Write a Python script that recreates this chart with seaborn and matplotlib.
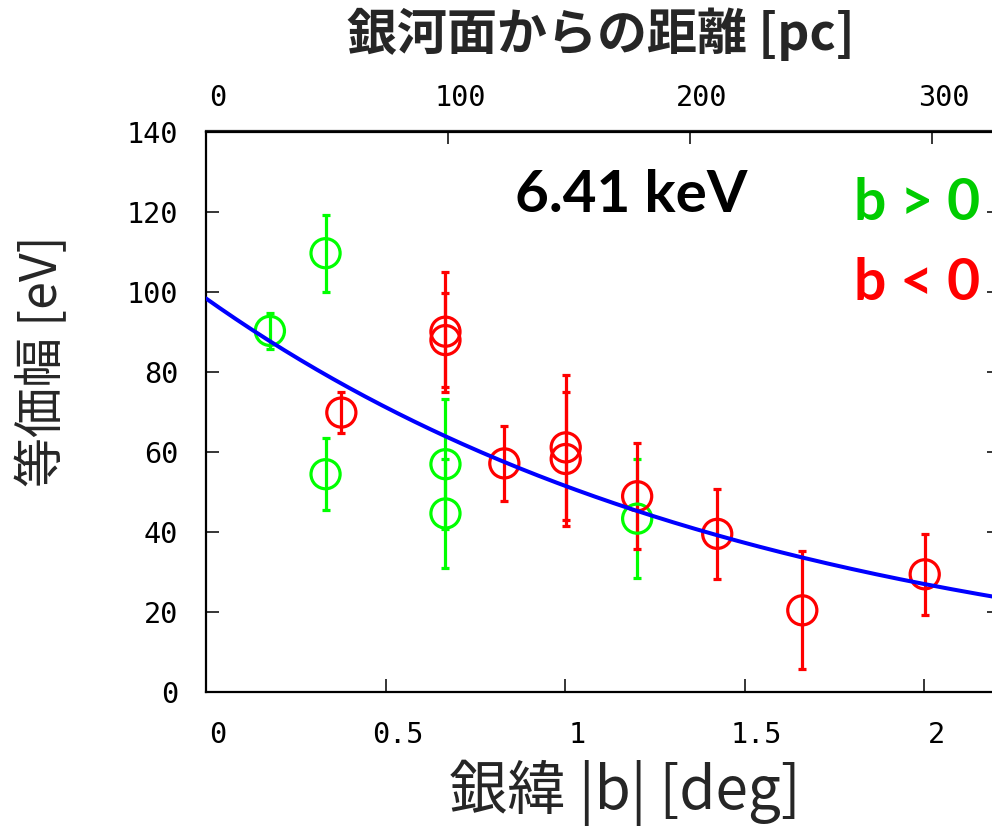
import numpy as np
import pandas as pd
import matplotlib
matplotlib.use("Agg")
import matplotlib.pyplot as plt
from matplotlib.transforms import ScaledTranslation
import seaborn as sns

# ---- data ----
b_pos = [0.178, 0.333, 0.333, 0.667, 0.667, 1.201]
ew_pos = [90.2, 109.6, 54.4, 56.9, 44.6, 43.3]
err_pos = [4.5, 9.6, 9.0, 16.2, 13.7, 14.9]

b_neg = [0.377, 0.667, 0.667, 0.831, 1.002, 1.002, 1.201, 1.424, 1.661, 2.002]
ew_neg = [69.8, 90.0, 87.9, 57.1, 61.1, 58.2, 48.9, 39.5, 20.4, 29.4]
err_neg = [5.2, 15.0, 11.7, 9.3, 18.1, 16.8, 13.3, 11.3, 14.7, 10.1]

fit_amp = 98.3        # eV at b = 0
fit_scale = 1.547     # deg
distance_pc = 8500.0  # for top axis conversion

xticks_bottom = [0, 0.5, 1, 1.5, 2]
xticklabels_bottom = ["0", "0.5", "1", "1.5", "2"]
yticks = [0, 20, 40, 60, 80, 100, 120, 140]
xticks_top = [0, 100, 200, 300]

GREEN = "#00ff00"
RED = "#ff0000"
BLUE = "#0000ff"
GREEN_TXT = "#00cc00"

sns.set_theme(style="white")
plt.rcParams["font.family"] = ["DejaVu Sans Mono", "DejaVu Sans"]
JP = ["Noto Sans CJK JP", "DejaVu Sans"]
LAT = ["Lato", "DejaVu Sans"]

fig = plt.figure(figsize=(9.92, 8.31), dpi=100)
ax = fig.add_axes([206 / 992, 1 - 692 / 831, (1000 - 206) / 992, (692 - 131.5) / 831])

df_pos = pd.DataFrame({"b": b_pos, "ew": ew_pos, "err": err_pos})
df_neg = pd.DataFrame({"b": b_neg, "ew": ew_neg, "err": err_neg})

for df, col in [(df_pos, GREEN), (df_neg, RED)]:
    ax.errorbar(df["b"], df["ew"], yerr=df["err"], fmt="none", ecolor=col,
                elinewidth=2.3, capsize=3.2, capthick=2.3, zorder=2)
    sns.scatterplot(data=df, x="b", y="ew", ax=ax, marker="o", s=440,
                    facecolors="none", edgecolor=col, linewidth=2.3, zorder=3,
                    legend=False)

xfit = np.linspace(0, 2.25, 300)
df_fit = pd.DataFrame({"b": xfit, "ew": fit_amp * np.exp(-xfit / fit_scale)})
sns.lineplot(data=df_fit, x="b", y="ew", ax=ax, color=BLUE, linewidth=2.9, zorder=4)

ax.set_xlim(0, (1000 - 206) / 359.0)
ax.set_ylim(0, 140)
ax.set_xticks(xticks_bottom)
ax.set_xticklabels(xticklabels_bottom)
ax.set_yticks(yticks)
ax.set_xlabel("")
ax.set_ylabel("")
for s in ax.spines.values():
    s.set_color("black")
    s.set_linewidth(1.6)
ax.tick_params(axis="both", direction="in", length=9.5, width=1.1, color="black",
               labelsize=20.5, labelcolor="black")
ax.tick_params(axis="y", pad=20, right=True, left=True)
ax.tick_params(axis="x", pad=21, bottom=True, top=False)

offset = ScaledTranslation(12 / 100, 0, fig.dpi_scale_trans)
for lab in ax.get_xticklabels():
    lab.set_transform(lab.get_transform() + offset)

def b2pc(b):
    return distance_pc * np.tan(np.deg2rad(b))

def pc2b(z):
    return np.rad2deg(np.arctan(np.asarray(z) / distance_pc))

sec = ax.secondary_xaxis("top", functions=(b2pc, pc2b))
sec.set_xticks(xticks_top)
sec.tick_params(axis="x", direction="in", length=9.5, width=1.1, color="black",
                labelsize=20.5, labelcolor="black", pad=14)
sec.spines["top"].set_linewidth(1.6)
for lab in sec.get_xticklabels():
    lab.set_transform(lab.get_transform() + offset)

# annotations
fig.text(631 / 992, 1 - 195 / 831, "6.41 keV", ha="center", va="center",
         fontsize=42, fontweight="bold", family=LAT, color="black")
fig.text(980 / 992, 1 - 203 / 831, "b > 0", ha="right", va="center", fontsize=41,
         fontweight="bold", family=LAT, color=GREEN_TXT)
fig.text(980 / 992, 1 - 283 / 831, "b < 0", ha="right", va="center", fontsize=41,
         fontweight="bold", family=LAT, color=RED)

fig.text(601 / 992, 1 - 34 / 831, "銀河面からの距離 [pc]", ha="center", va="center",
         fontsize=36, fontweight="bold", family=JP)
fig.text(625 / 992, 1 - 793 / 831, "銀緯 |b| [deg]", ha="center", va="center",
         fontsize=42, family=JP)
fig.text(43 / 992, 1 - 361 / 831, "等価幅 [eV]", ha="center", va="center",
         fontsize=36, rotation=90, family=JP)

fig.savefig("out.png", dpi=100, facecolor="white")
